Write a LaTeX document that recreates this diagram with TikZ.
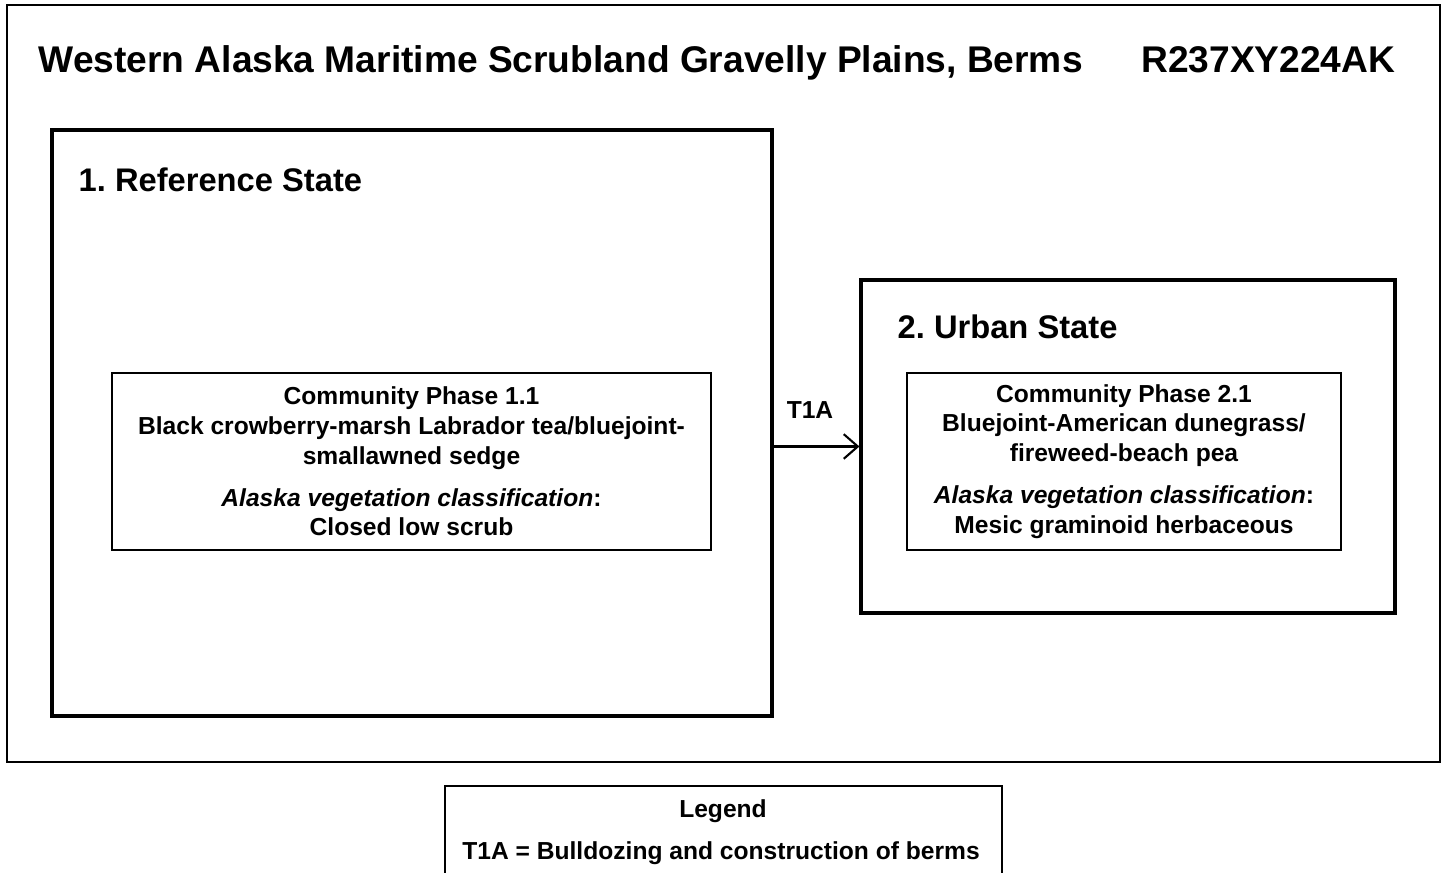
\documentclass[tikz,border=0pt]{standalone}
\usepackage{fontspec}
\setmainfont{Liberation Sans}
\usetikzlibrary{arrows.meta}
\frenchspacing
\tikzset{
	statebox/.style={draw, line width=0.9pt, inner sep=0pt},
	phasebox/.style={draw, line width=0.6pt, align=center, inner sep=0pt,
		font=\bfseries\fontsize{7}{8.5}\selectfont},
	smalltext/.style={font=\bfseries\fontsize{7}{8.5}\selectfont, inner sep=0pt},
	statetitle/.style={anchor=base west, inner sep=0pt, font=\bfseries\fontsize{9.3}{11}\selectfont}
}
\begin{document}
\begin{tikzpicture}
	\useasboundingbox (0,0) rectangle (14.46,8.73);
	\draw[line width=0.6pt](0.07,1.11) rectangle (14.40,8.68);
	\node[anchor=base west, inner sep=0pt, font=\bfseries\fontsize{10.57}{12}\selectfont] (title) at(0.38,8.00){Western Alaska Maritime Scrubland Gravelly Plains, Berms};
	\node[anchor=base east, inner sep=0pt, font=\bfseries\fontsize{10.57}{12}\selectfont] (code) at(13.96,8.00){R237XY224AK};
	% states
	\node[statebox, minimum width=7.20cm, minimum height=5.86cm] (ref) at(4.12,4.50){};
	\node[statetitle] (reftitle) at(0.78,6.81){1. Reference State};
	\node[statebox, minimum width=5.34cm, minimum height=3.33cm] (urban) at(11.28,4.265){};
	\node[statetitle] (urbantitle) at(8.97,5.34){2. Urban State};
	% community phases
	\node[phasebox, minimum width=5.99cm, minimum height=1.77cm] (cp11) at(4.115,4.115){Community Phase 1.1\\Black crowberry-marsh Labrador tea/bluejoint-\\smallawned sedge\\[3.4pt]\textit{Alaska vegetation classification}:\\Closed low scrub};
	\node[phasebox, minimum width=4.34cm, minimum height=1.77cm] (cp21) at(11.24,4.115){Community Phase 2.1\\Bluejoint-American dunegrass/\\fireweed-beach pea\\[3.4pt]\textit{Alaska vegetation classification}:\\Mesic graminoid herbaceous};
	% transition
	\draw[line width=0.6pt, -{Straight Barb[length=4pt, width=7pt]}] (ref.east |- urban.west) -- (urban.west);
	\node[smalltext] (t1a) at(8.10,4.63){T1A};
	% legend
	\draw[line width=0.6pt](4.45,-0.2) rectangle (10.02,0.87);
	\node[smalltext] (legend) at(7.23,0.62){Legend};
	\node[smalltext] (legendt1a) at(7.21,0.20){T1A = Bulldozing and construction of berms};
\end{tikzpicture}
\end{document}
